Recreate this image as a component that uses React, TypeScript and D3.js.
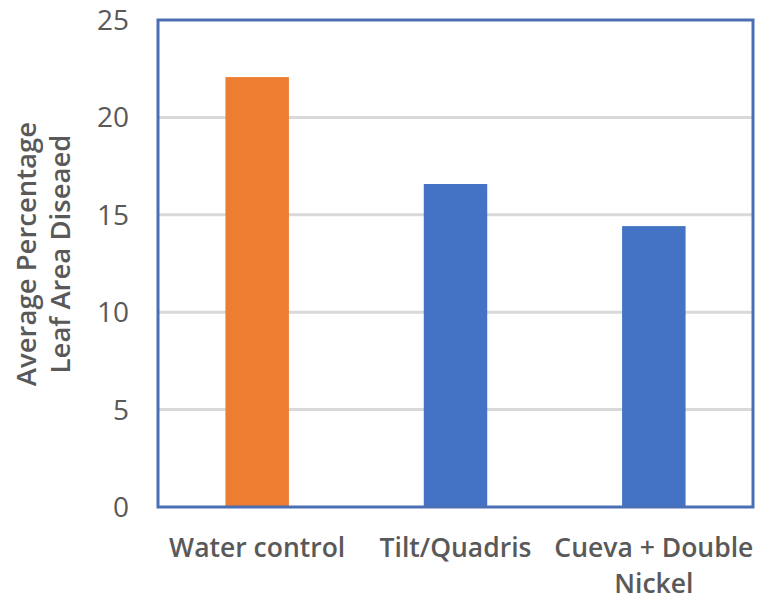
import { useEffect, useRef } from 'react';
import * as d3 from 'd3';

const categories = ['Water control', 'Tilt/Quadris', 'Cueva + Double Nickel'];
const values = [22.07, 16.58, 14.42];
const barColors = ['#ED7D31', '#4472C4', '#4472C4'];
const yTicks = [0, 5, 10, 15, 20, 25];
const yTitle = ['Average Percentage', 'Leaf Area Diseaed'];

const W = 777;
const H = 605;

const App = () => {
  const svgRef = useRef<SVGSVGElement>(null);

  useEffect(() => {
    if (!svgRef.current) return;
    const svg = d3.select(svgRef.current);
    svg.selectAll('*').remove();

    const left = 158, right = 753, top = 20, bottom = 507;
    const font = "'Open Sans', sans-serif";

    const x = d3.scaleBand<string>().domain(categories).range([left, right]).padding(0);
    const y = d3.scaleLinear().domain([0, 25]).range([bottom, top]);
    const barW = x.bandwidth() * 0.32;

    // gridlines
    svg.append('g')
      .selectAll('line')
      .data(yTicks.filter(t => t > 0 && t < 25))
      .enter()
      .append('line')
      .attr('x1', left)
      .attr('x2', right)
      .attr('y1', d => y(d))
      .attr('y2', d => y(d))
      .attr('stroke', '#D9D9D9')
      .attr('stroke-width', 3);

    // bars
    svg.append('g')
      .selectAll('rect')
      .data(values)
      .enter()
      .append('rect')
      .attr('x', (_, i) => x(categories[i])! + x.bandwidth() / 2 - barW / 2)
      .attr('y', d => y(d))
      .attr('width', barW)
      .attr('height', d => bottom - y(d))
      .attr('fill', (_, i) => barColors[i]);

    // frame
    svg.append('rect')
      .attr('x', left)
      .attr('y', top)
      .attr('width', right - left)
      .attr('height', bottom - top)
      .attr('fill', 'none')
      .attr('stroke', '#4A6FB5')
      .attr('stroke-width', 3);

    // y tick labels
    svg.append('g')
      .selectAll('text')
      .data(yTicks)
      .enter()
      .append('text')
      .attr('x', 129)
      .attr('y', d => y(d))
      .attr('dy', '0.36em')
      .attr('text-anchor', 'end')
      .attr('fill', '#595959')
      .attr('font-family', font)
      .attr('font-size', 28)
      .text(d => d);

    // category labels
    const wrap: Record<string, string[]> = {
      'Water control': ['Water control'],
      'Tilt/Quadris': ['Tilt/Quadris'],
      'Cueva + Double Nickel': ['Cueva + Double', 'Nickel'],
    };
    categories.forEach(c => {
      const t = svg.append('text')
        .attr('text-anchor', 'middle')
        .attr('fill', '#595959')
        .attr('font-family', font)
        .attr('font-weight', 600)
        .attr('font-size', 26.5);
      wrap[c].forEach((line, j) => {
        t.append('tspan')
          .attr('x', x(c)! + x.bandwidth() / 2)
          .attr('y', 557 + j * 36)
          .text(line);
      });
    });

    // y title
    yTitle.forEach((line, j) => {
      svg.append('text')
        .attr('transform', `translate(${36 + j * 34}, 254) rotate(-90)`)
        .attr('text-anchor', 'middle')
        .attr('fill', '#595959')
        .attr('font-family', font)
        .attr('font-weight', 600)
        .attr('font-size', 27.5)
        .text(line);
    });
  }, []);

  return (
    <svg
      ref={svgRef}
      width={W}
      height={H}
      style={{ position: 'absolute', left: 0, top: 0, display: 'block', background: '#fff' }}
    />
  );
};

export default App;
